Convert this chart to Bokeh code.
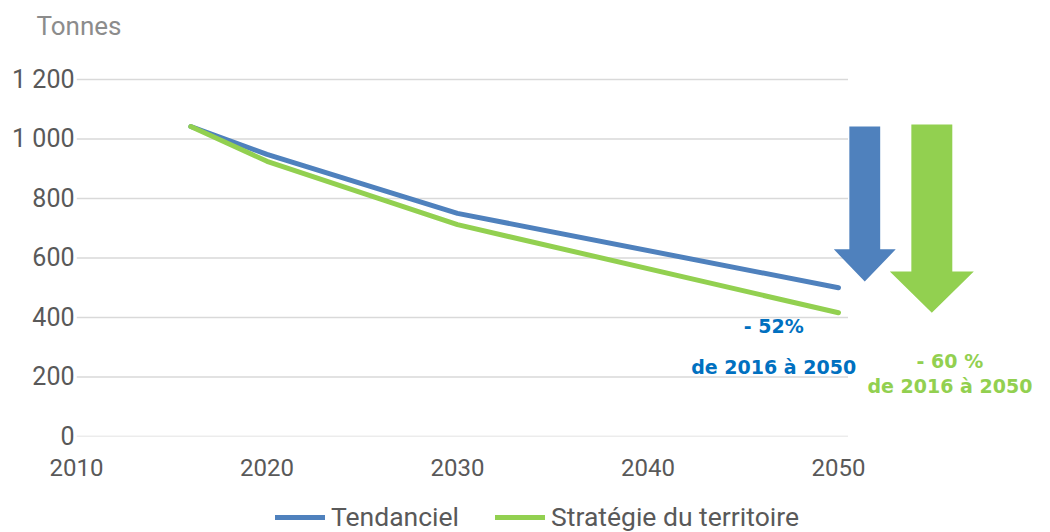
from bokeh.plotting import figure
from bokeh.layouts import column
from bokeh.models import FixedTicker, Legend, LegendItem
from bokeh.core.properties import value
from bokeh.embed import file_html
from bokeh.resources import INLINE

# ---- data ----
years = [2016, 2020, 2030, 2050]
tendanciel = [1042, 948, 750, 500]
strategie = [1042, 925, 712, 416]
x_ticks = [2010, 2020, 2030, 2040, 2050]
y_ticks = [0, 200, 400, 600, 800, 1000, 1200]
y_labels = ["0", "200", "400", "600", "800", "1 000", "1 200"]
series_names = ["Tendanciel", "Stratégie du territoire"]
reduction_labels = ["- 52%", "- 60 %"]
period_label = "de 2016 à 2050"
unit_label = "Tonnes"

BLUE = "#4F81BD"
GREEN = "#92D050"
BLUE_TXT = "#0070C0"
GRAY = "#595959"

p = figure(width=1034, height=488, output_backend="svg", toolbar_location=None,
           x_range=(2010, 2060.29), y_range=(0, 1304.2), title=unit_label,
           min_border_left=76, min_border_right=0, min_border_top=48, min_border_bottom=52)
p.outline_line_color = None
p.xgrid.visible = False
p.ygrid.visible = False
p.title.text_font = "Roboto"
p.title.text_font_size = "26px"
p.title.text_font_style = "normal"
p.title.text_color = "#8C8C8C"
p.title.align = "left"
p.title.offset = -40
p.title.standoff = 16

# gridlines limited to the plot area of the original chart
p.segment(x0=[x_ticks[0]] * len(y_ticks), x1=[x_ticks[-1] + 0.5] * len(y_ticks),
          y0=y_ticks, y1=y_ticks, line_color="#D9D9D9", line_width=1.5)

line_kw = dict(line_width=5, line_cap="round", line_join="round")
p.line(years, tendanciel, line_color=BLUE, **line_kw)
p.line(years, strategie, line_color=GREEN, **line_kw)

# arrows (annotation shapes)
def arrow(xc, shaft_w, head_w, top, head_base, tip):
    xs = [xc - shaft_w / 2, xc + shaft_w / 2, xc + shaft_w / 2, xc + head_w / 2, xc,
          xc - head_w / 2, xc - shaft_w / 2]
    ys = [top, top, head_base, head_base, tip, head_base, head_base]
    return xs, ys

bx, by = arrow(2051.38, 1.62, 3.25, tendanciel[0], 629, 521)
gx, gy = arrow(2054.9, 2.15, 4.41, 1049, 555, strategie[-1])
p.patches([bx, gx], [by, gy], fill_color=[BLUE, GREEN], line_color=None)

txt_font = value("DejaVu Sans")
p.text(x=[2046.6, 2046.6], y=[373, 232], text=[reduction_labels[0], period_label],
       text_color=BLUE_TXT, text_font=txt_font, text_font_style="bold",
       text_font_size="19px", text_align="center", text_baseline="middle")
p.text(x=[2055.85, 2055.85], y=[255, 171], text=[reduction_labels[1], period_label],
       text_color=GREEN, text_font=txt_font, text_font_style="bold",
       text_font_size="19px", text_align="center", text_baseline="middle")

# axes
p.yaxis.ticker = FixedTicker(ticks=y_ticks)
p.yaxis.major_label_overrides = {t: l for t, l in zip(y_ticks, y_labels)}
p.xaxis.ticker = FixedTicker(ticks=x_ticks)
for ax in (p.xaxis, p.yaxis):
    ax.axis_line_color = None
    ax.major_tick_line_color = None
    ax.minor_tick_line_color = None
    ax.major_tick_out = 0
    ax.major_tick_in = 0
    ax.major_label_text_font = "Roboto"
    ax.major_label_text_font_size = "24px"
    ax.major_label_text_color = GRAY
p.yaxis.major_label_text_font_size = "25px"
p.yaxis.major_label_standoff = 2
p.xaxis.major_label_standoff = 22

# legend strip below the chart
pl = figure(width=1034, height=44, output_backend="svg", toolbar_location=None,
            x_axis_type=None, y_axis_type=None, x_range=(0, 1), y_range=(0, 1),
            min_border=0)
pl.outline_line_color = None
l1 = pl.line(years, tendanciel, line_color=BLUE, **line_kw)
l2 = pl.line(years, strategie, line_color=GREEN, **line_kw)
legend = Legend(items=[LegendItem(label=series_names[0], renderers=[l1]),
                       LegendItem(label=series_names[1], renderers=[l2])],
                orientation="horizontal", location=(199, 0),
                label_text_font="Roboto", label_text_font_size="26.5px",
                label_text_color=GRAY, glyph_width=50, glyph_height=28,
                label_standoff=6, spacing=36, padding=0, margin=0,
                border_line_color=None, background_fill_alpha=0)
pl.add_layout(legend)

layout = column(p, pl, spacing=0)
open("out.html", "w").write(file_html(layout, INLINE))
